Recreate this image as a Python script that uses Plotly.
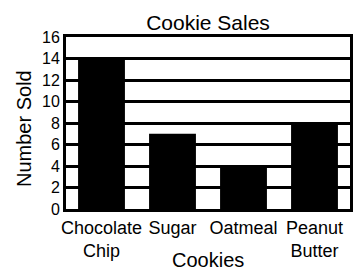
import plotly.graph_objects as go

categories = ["Chocolate<br>Chip", "Sugar", "Oatmeal", "Peanut<br>Butter"]
sold = [14, 7, 4, 8]
y_ticks = [0, 2, 4, 6, 8, 10, 12, 14, 16]

FONT = "Liberation Sans, Arial, sans-serif"

# page body has an 8px margin, so the figure is drawn 8px smaller
W, H = 355, 263
PLOT_LEFT, PLOT_RIGHT = 58, 342
PLOT_TOP, PLOT_BOTTOM = 29, 201
PLOT_W = PLOT_RIGHT - PLOT_LEFT
PLOT_H = PLOT_BOTTOM - PLOT_TOP

fig = go.Figure(
    go.Bar(x=categories, y=sold, marker=dict(color="black", line=dict(width=0)), width=0.66)
)

fig.update_layout(
    width=W, height=H,
    margin=dict(l=PLOT_LEFT, r=W - PLOT_RIGHT, t=PLOT_TOP, b=H - PLOT_BOTTOM, pad=0,
                autoexpand=False),
    paper_bgcolor="white", plot_bgcolor="white",
    font=dict(family=FONT, color="black"),
    showlegend=False,
    title=dict(text="Cookie Sales", x=0.5, xref="paper", xanchor="center",
               y=1 - 15 / H, yref="container", yanchor="middle",
               font=dict(size=21, family=FONT, color="black")),
    annotations=[
        dict(text="Cookies", x=0.5, xref="paper", xanchor="center",
             y=(PLOT_BOTTOM - 252) / PLOT_H, yref="paper", yanchor="middle",
             showarrow=False, font=dict(size=20, family=FONT, color="black")),
        dict(text="Number Sold", textangle=-90,
             x=(16 - PLOT_LEFT) / PLOT_W, xref="paper", xanchor="center",
             y=(PLOT_BOTTOM - 121) / PLOT_H, yref="paper", yanchor="middle",
             showarrow=False, font=dict(size=20, family=FONT, color="black")),
    ],
)

fig.update_xaxes(
    showline=True, linewidth=3, linecolor="black", mirror=True,
    showgrid=False, ticks="", tickangle=0, automargin=False,
    tickfont=dict(size=18, family=FONT), ticklabelstandoff=0,
)
fig.update_yaxes(
    range=[0, 16], tickvals=y_ticks, ticktext=[str(v) for v in y_ticks],
    showline=True, linewidth=3, linecolor="black", mirror=True,
    showgrid=True, gridcolor="black", gridwidth=3, zeroline=False,
    ticks="", automargin=False, tickfont=dict(size=16, family=FONT),
    ticklabelstandoff=0,
)

fig.write_html("out.html")
